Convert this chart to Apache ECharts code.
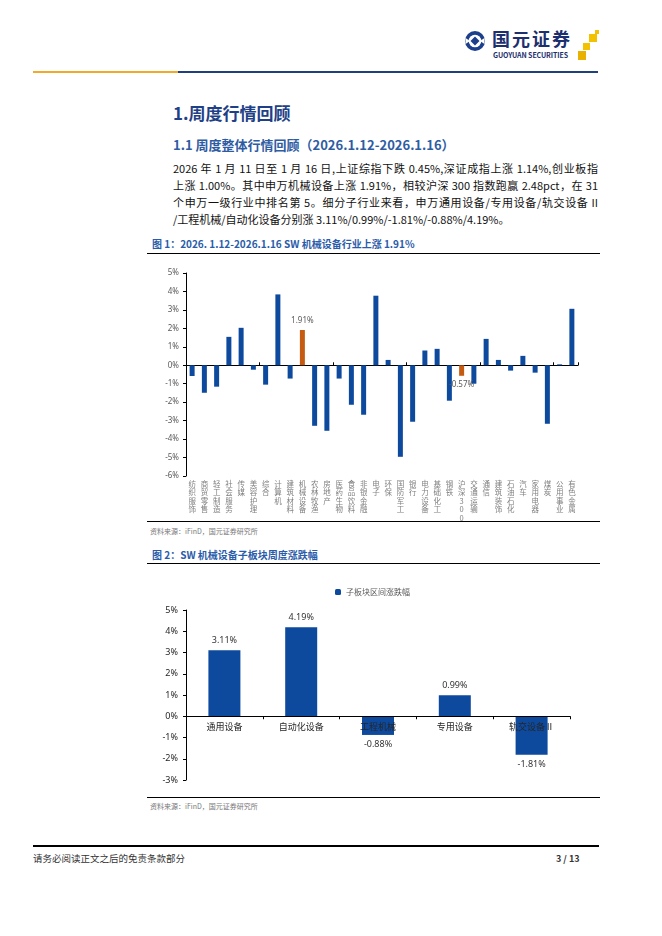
<!DOCTYPE html>
<html><head><meta charset="utf-8">
<script src="https://cdn.jsdelivr.net/npm/echarts@6/dist/echarts.min.js"></script>
<style>
html,body{margin:0;padding:0;background:#fff;width:662px;height:936px;overflow:hidden;font-family:"Noto Sans CJK SC","Noto Sans",sans-serif;}
.a{position:absolute;white-space:nowrap;}
.j{position:absolute;white-space:nowrap;width:425px;text-align:justify;text-align-last:justify;}
#chart{position:absolute;left:0;top:0;width:662px;height:936px;}
.hl{position:absolute;height:0;}
</style></head><body>
<!-- header -->
<svg class="a" style="left:464px;top:30px" width="22" height="22" viewBox="0 0 22 22">
  <circle cx="11" cy="11" r="10" fill="#1c3f8c"/>
  <circle cx="11" cy="11" r="6.3" fill="#fff"/>
  <path d="M11 6.5 L15.5 11 L11 15.5 L6.5 11 Z" fill="#1c3f8c"/>
  <path d="M1.5 8 L6 11 L1.5 14 Z" fill="#fff"/>
  <path d="M20.5 8 L16 11 L20.5 14 Z" fill="#fff"/>
</svg>
<div class="a" style="left:492px;top:28px;font-size:18px;line-height:21px;font-weight:700;color:#1c2f6e;letter-spacing:2px">国元证券</div>
<div class="a" style="left:493px;top:51px;font-size:7px;line-height:8px;font-weight:700;color:#1c2f6e;letter-spacing:-0.1px">GUOYUAN SECURITIES</div>
<div class="a" style="left:589px;top:34px;width:8px;height:8px;background:#f2c200"></div>
<div class="a" style="left:583px;top:43px;width:7px;height:7px;background:#f2c200"></div>
<div class="a" style="left:578px;top:51px;width:8px;height:9px;background:#e9b200"></div>
<div class="a" style="left:595px;top:30px;width:4px;height:4px;background:#f2c200"></div>
<div class="hl" style="left:33px;top:71px;width:145px;border-top:2px solid #f2a829"></div>
<div class="hl" style="left:178px;top:71px;width:420px;border-top:2px solid #1f3f7f"></div>

<!-- titles -->
<div class="a" style="left:173px;top:102px;font-size:17px;line-height:22px;font-weight:700;color:#1f3f86">1.周度行情回顾</div>
<div class="a" style="left:173px;top:136px;font-size:13px;line-height:18px;font-weight:700;color:#2e5ca3">1.1 周度整体行情回顾（2026.1.12-2026.1.16）</div>
<div class="j" style="left:173px;top:160px;font-size:11px;line-height:16px;color:#111">2026 年 1 月 11 日至 1 月 16 日,上证综指下跌 0.45%,深证成指上涨 1.14%,创业板指</div>
<div class="j" style="left:173px;top:177px;font-size:11px;line-height:16px;color:#111">上涨 1.00%。其中申万机械设备上涨 1.91%，相较沪深 300 指数跑赢 2.48pct，在 31</div>
<div class="j" style="left:173px;top:194px;font-size:11px;line-height:16px;color:#111">个申万一级行业中排名第 5。细分子行业来看，申万通用设备/专用设备/轨交设备 II</div>
<div class="a" style="left:173px;top:211px;font-size:11px;line-height:16px;color:#111">/工程机械/自动化设备分别涨 3.11%/0.99%/-1.81%/-0.88%/4.19%。</div>

<div class="a" style="left:152px;top:237px;font-size:10px;line-height:14px;font-weight:700;color:#2a5caa">图 1：2026. 1.12-2026.1.16 SW 机械设备行业上涨 1.91%</div>
<div class="hl" style="left:147px;top:253px;width:453px;border-top:1px solid #000"></div>
<div class="hl" style="left:147px;top:521px;width:453px;border-top:1px solid #000"></div>
<div class="a" style="left:150px;top:526px;font-size:7px;line-height:10px;color:#777">资料来源：iFinD，国元证券研究所</div>

<div class="a" style="left:152px;top:548px;font-size:10px;line-height:14px;font-weight:700;color:#2a5caa">图 2：SW 机械设备子板块周度涨跌幅</div>
<div class="hl" style="left:147px;top:563px;width:453px;border-top:1px solid #000"></div>
<div class="hl" style="left:147px;top:797px;width:453px;border-top:1px solid #000"></div>
<div class="a" style="left:150px;top:801px;font-size:7px;line-height:10px;color:#777">资料来源：iFinD，国元证券研究所</div>

<!-- footer -->
<div class="hl" style="left:33px;top:845px;width:566px;border-top:2px solid #000"></div>
<div class="a" style="left:33px;top:852px;font-size:9.5px;line-height:13px;color:#333">请务必阅读正文之后的免责条款部分</div>
<div class="a" style="left:556px;top:852px;font-size:9px;line-height:13px;font-weight:700;color:#333">3 / 13</div>

<div id="chart"></div>
<script>
// ---- Chart 1 data ----
const cats1 = ['纺织服饰','商贸零售','轻工制造','社会服务','传媒','美容护理','综合','计算机','建筑材料','机械设备','农林牧渔','房地产','医药生物','食品饮料','非银金融','电子','环保','国防军工','银行','电力设备','基础化工','钢铁','沪深300','交通运输','通信','建筑装饰','石油石化','汽车','家用电器','煤炭','公用事业','有色金属'];
const vals1 = [-0.58,-1.49,-1.16,1.54,2.03,-0.24,-1.05,3.84,-0.72,1.91,-3.28,-3.55,-0.72,-2.14,-2.68,3.77,0.29,-4.96,-3.06,0.80,0.89,-1.92,-0.57,-1.00,1.43,0.29,-0.29,0.51,-0.40,-3.17,0.05,3.06];
const highlight1 = ['机械设备','沪深300'];
const yMin1 = -6, yMax1 = 5, yStep1 = 1;

// ---- Chart 2 data ----
const legend2 = '子板块区间涨跌幅';
const cats2 = ['通用设备','自动化设备','工程机械','专用设备','轨交设备Ⅱ'];
const vals2 = [3.11, 4.19, -0.88, 0.99, -1.81];
const yMin2 = -3, yMax2 = 5, yStep2 = 1;

const BLUE = '#0d4a9e', ORANGE = '#c55a11';
const pct = v => v + '%';
const G2H = 170;

const data1 = vals1.map((v, i) => {
  const hl = highlight1.includes(cats1[i]);
  const d = { value: v, itemStyle: { color: hl ? ORANGE : BLUE } };
  if (hl) d.label = { show: true, position: v >= 0 ? 'top' : 'bottom', distance: 5, formatter: v.toFixed(2) + '%' };
  return d;
});
const data2 = vals2.map(v => ({ value: v, label: { position: v >= 0 ? 'top' : 'bottom' } }));

const chart = echarts.init(document.getElementById('chart'));
chart.setOption({
  animation: false,
  textStyle: { fontFamily: '"Noto Sans", "Noto Sans CJK SC", sans-serif' },
  legend: {
    data: [legend2], left: 330, top: 583, itemWidth: 6, itemHeight: 6, itemGap: 4,
    textStyle: { fontSize: 8, color: '#595959', fontFamily: '"Noto Sans CJK SC"' }
  },
  grid: [
    { left: 186, top: 273, width: 392, height: 203 },
    { left: 186, top: 610, width: 384, height: G2H }
  ],
  xAxis: [
    { gridIndex: 0, type: 'category', data: cats1, position: 'bottom',
      axisLine: { show: false, onZero: false }, axisTick: { show: false },
      axisLabel: { interval: 0, margin: 4, fontSize: 7.5, lineHeight: 8.4, color: '#808080',
        fontFamily: '"Noto Sans CJK SC"', formatter: s => s.split('').join('\n') } },
    { gridIndex: 0, type: 'category', data: cats1, position: 'bottom',
      axisLine: { show: true, onZero: true, lineStyle: { color: '#000', width: 1 } },
      axisTick: { show: true, inside: true, length: 3, lineStyle: { color: '#000' } },
      axisLabel: { show: false } },
    { gridIndex: 1, type: 'category', data: cats2, position: 'bottom', z: 10,
      offset: -G2H * (0 - yMin2) / (yMax2 - yMin2),
      axisLine: { onZero: false, lineStyle: { color: '#000', width: 1 } },
      axisTick: { show: true, length: 3, lineStyle: { color: '#000' } },
      axisLabel: { interval: 0, margin: 6, fontSize: 9, color: '#262626', fontFamily: '"Noto Sans CJK SC"' } }
  ],
  yAxis: [
    { gridIndex: 0, type: 'value', min: yMin1, max: yMax1, interval: yStep1,
      axisLine: { show: true, lineStyle: { color: '#000' } },
      axisTick: { show: true, length: 3, lineStyle: { color: '#000' } },
      splitLine: { show: false },
      axisLabel: { formatter: pct, fontSize: 8, color: '#595959', margin: 7 } },
    { gridIndex: 1, type: 'value', min: yMin2, max: yMax2, interval: yStep2,
      axisLine: { show: true, lineStyle: { color: '#000' } },
      axisTick: { show: true, length: 3, lineStyle: { color: '#000' } },
      splitLine: { show: false },
      axisLabel: { formatter: pct, fontSize: 9, color: '#262626', margin: 8 } }
  ],
  series: [
    { type: 'bar', xAxisIndex: 0, yAxisIndex: 0, data: data1, barWidth: 5,
      label: { show: false, fontSize: 8, color: '#595959' } },
    { type: 'bar', name: legend2, xAxisIndex: 2, yAxisIndex: 1, data: data2, barWidth: 32,
      itemStyle: { color: BLUE },
      label: { show: true, distance: 5, fontSize: 9, color: '#333', formatter: p => p.value.toFixed(2) + '%' } }
  ]
});
</script>
</body></html>
